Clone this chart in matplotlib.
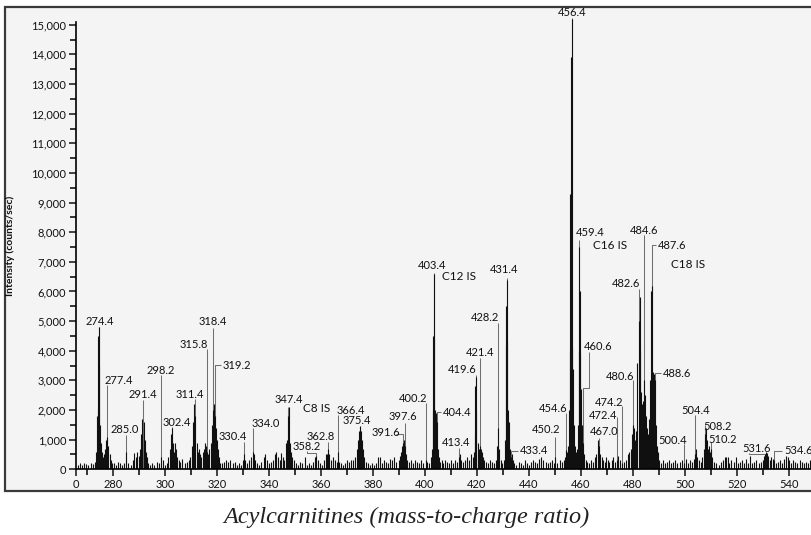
import matplotlib
matplotlib.use("Agg")
import matplotlib.pyplot as plt
from matplotlib.patches import Rectangle

plt.rcParams['font.family'] = ['Lato', 'DejaVu Sans']

# profile sticks (m/z, counts/sec)
sticks_266_300 = [
    (266.4, 150), (267.2, 200), (268.0, 150), (268.8, 220), (269.6, 180), (270.4, 150),
    (271.2, 220), (272.0, 180), (272.8, 250), (273.4, 600),
    (273.7, 1800), (274.0, 2000), (274.2, 4500), (274.4, 4800), (274.6, 3500), (274.8, 1500),
    (275.1, 900), (275.5, 600), (275.9, 400), (276.4, 500), (276.9, 700), (277.3, 1000),
    (277.7, 1100), (278.1, 800), (278.5, 500), (279.0, 300), (279.6, 200),
    (280.3, 200), (281.0, 150), (281.8, 250), (282.6, 200), (283.4, 150), (284.2, 200),
    (285.0, 600), (285.8, 200), (286.6, 150),
    (287.4, 300), (288.0, 550), (288.6, 400), (289.2, 600), (289.8, 450), (290.4, 700),
    (290.8, 1200), (291.2, 1700), (291.6, 1600), (292.0, 1000), (292.4, 600), (292.8, 400),
    (293.4, 200), (294.2, 150), (295.0, 200), (295.8, 150), (296.6, 250), (297.4, 200),
    (298.2, 400), (299.0, 300), (299.8, 150),
]
sticks_300_340 = [
    (300.6, 200), (301.2, 400), (301.8, 700), (302.2, 1200), (302.6, 1400), (303.0, 900),
    (303.4, 600), (303.8, 900), (304.2, 700), (304.6, 400), (305.2, 300), (305.8, 250),
    (306.6, 350), (307.4, 200), (308.2, 250), (309.0, 300), (309.6, 400), (310.2, 800),
    (310.8, 1600), (311.2, 2200), (311.6, 1800), (312.0, 900), (312.4, 600), (312.8, 700),
    (313.2, 500), (313.8, 400), (314.4, 600), (315.0, 700), (315.4, 900), (315.8, 800),
    (316.2, 600), (316.6, 500), (317.0, 700), (317.4, 900), (317.8, 1500), (318.2, 2000),
    (318.6, 2200), (319.0, 1800), (319.4, 1400), (319.8, 1000), (320.2, 700), (320.6, 400),
    (321.0, 200), (321.8, 200), (322.6, 250), (323.4, 300), (324.2, 250), (325.0, 300),
    (326.0, 200), (326.8, 250), (327.6, 150), (328.4, 200), (329.2, 150), (330.0, 300),
    (330.4, 500), (330.8, 300), (331.6, 200), (332.4, 300), (333.0, 400), (333.6, 600),
    (334.0, 500), (334.6, 300), (335.4, 200), (336.2, 150), (337.0, 250), (337.8, 400),
    (338.4, 500), (339.0, 300), (339.8, 200),
]
sticks_340_400 = [
    (340.6, 250), (341.4, 300), (342.2, 500), (342.8, 600), (343.4, 400), (344.0, 300),
    (344.6, 550), (345.2, 400), (345.8, 300), (346.4, 900), (346.8, 1000), (347.2, 1800),
    (347.6, 2100), (348.0, 900), (348.4, 600), (348.8, 400), (349.4, 300), (350.2, 200),
    (351.0, 150), (351.8, 250), (352.6, 200), (353.6, 400), (354.4, 150), (355.4, 200),
    (356.2, 150), (357.0, 250), (357.6, 400), (358.2, 450), (358.8, 300), (359.6, 200),
    (360.4, 150), (361.2, 300), (361.8, 500), (362.4, 500), (362.8, 700), (363.2, 500),
    (363.8, 300), (364.6, 400), (365.4, 300), (366.0, 250), (366.4, 600), (366.8, 250),
    (367.6, 200), (368.4, 150), (369.2, 200), (370.0, 300), (370.8, 250), (371.6, 300),
    (372.4, 300), (373.2, 400), (373.8, 700), (374.2, 1000), (374.6, 1300), (375.0, 1450),
    (375.4, 1300), (375.8, 1000), (376.2, 700), (376.6, 400), (377.2, 250), (378.0, 200),
    (378.8, 150), (379.6, 200), (380.4, 150), (381.2, 200), (382.0, 400), (382.6, 400),
    (383.4, 200), (384.2, 300), (385.0, 250), (385.8, 200), (386.6, 350), (387.4, 300),
    (388.2, 400), (389.0, 250), (389.8, 300), (390.4, 450), (390.8, 600), (391.2, 800),
    (391.6, 900), (392.0, 1000), (392.4, 800), (392.8, 500), (393.2, 300), (393.8, 250),
    (394.6, 300), (395.4, 200), (396.2, 300), (397.0, 250), (397.8, 200), (398.6, 300),
    (399.4, 200),
]
sticks_400_450 = [
    (400.2, 300), (400.8, 250), (401.6, 200), (402.2, 400), (402.6, 700), (403.0, 2000),
    (403.2, 4500), (403.4, 6600), (403.6, 4400), (403.8, 2000), (404.2, 1900), (404.6, 1600),
    (405.0, 700), (405.4, 400), (405.8, 250), (406.4, 300), (407.0, 200), (407.8, 300),
    (408.4, 250), (409.2, 200), (410.0, 300), (410.8, 200), (411.6, 300), (412.4, 250),
    (413.0, 400), (413.4, 500), (413.8, 300), (414.6, 250), (415.4, 300), (416.2, 400),
    (417.0, 300), (417.8, 500), (418.4, 400), (418.8, 600), (419.2, 1200), (419.4, 2800),
    (419.6, 3100), (419.8, 2000), (420.2, 900), (420.6, 700), (421.0, 800), (421.4, 700),
    (421.8, 600), (422.2, 400), (422.8, 300), (423.4, 250), (424.2, 200), (425.0, 300),
    (425.8, 250), (426.6, 200), (427.2, 300), (427.8, 800), (428.2, 1400), (428.6, 700),
    (429.2, 300), (429.8, 200), (430.4, 300), (430.8, 1000), (431.0, 4200), (431.2, 5500),
    (431.4, 6400), (431.6, 4300), (431.8, 2000), (432.2, 1600), (432.6, 700), (433.0, 400),
    (433.4, 500), (433.8, 300), (434.4, 200), (435.2, 150), (436.0, 250), (436.8, 200),
    (437.6, 150), (438.4, 300), (439.2, 200), (440.0, 150), (440.8, 250), (441.6, 300),
    (442.4, 250), (443.2, 200), (444.0, 350), (444.8, 400), (445.6, 300), (446.4, 250),
    (447.2, 200), (448.0, 250), (448.8, 300), (449.6, 200),
]
sticks_450_500 = [
    (450.2, 400), (451.0, 200), (451.8, 300), (452.6, 250), (453.4, 300), (454.0, 400),
    (454.4, 650), (454.8, 600), (455.2, 800), (455.6, 2000), (455.8, 4000), (456.0, 9300),
    (456.2, 13900), (456.4, 15200), (456.6, 4100), (456.8, 3400), (457.2, 1500), (457.6, 800),
    (458.0, 600), (458.4, 700), (458.8, 1500), (459.2, 4000), (459.4, 7500), (459.6, 6000),
    (459.8, 3900), (460.2, 2700), (460.6, 1500), (461.0, 900), (461.4, 500), (461.8, 300),
    (462.4, 250), (463.2, 200), (464.0, 300), (464.8, 250), (465.4, 400), (466.0, 500),
    (466.6, 1000), (467.0, 800), (467.4, 500), (468.0, 400), (468.6, 300), (469.2, 250),
    (469.8, 400), (470.4, 300), (471.0, 250), (471.8, 300), (472.4, 400), (473.0, 250),
    (473.8, 300), (474.4, 450), (475.0, 300), (475.8, 200), (476.6, 250), (477.4, 300),
    (478.0, 500), (478.6, 600), (479.2, 700), (479.8, 1200), (480.2, 1500), (480.6, 1400),
    (481.0, 1000), (481.4, 1300), (481.8, 3600), (482.2, 5000), (482.6, 5800), (482.8, 4000),
    (483.2, 2600), (483.6, 2200), (484.0, 2300), (484.2, 3000), (484.6, 2500), (485.0, 1800),
    (485.4, 1400), (485.8, 1200), (486.2, 1700), (486.6, 3000), (487.0, 6000), (487.4, 6200),
    (487.8, 3300), (488.2, 3200), (488.6, 3000), (489.0, 1500), (489.4, 800), (489.8, 600),
    (490.2, 300), (490.8, 200), (491.6, 300), (492.4, 200), (493.2, 250), (494.0, 300),
    (494.8, 200), (495.6, 250), (496.4, 300), (497.2, 200), (498.0, 250), (498.8, 300),
    (499.6, 200),
]
sticks_500_549 = [
    (500.4, 350), (501.2, 200), (502.0, 300), (502.8, 250), (503.6, 350), (504.0, 500),
    (504.4, 700), (504.8, 400), (505.4, 300), (506.2, 250), (506.8, 400), (507.4, 700),
    (507.8, 1200), (508.2, 1400), (508.6, 1000), (509.0, 700), (509.4, 800), (509.8, 600),
    (510.2, 700), (510.6, 400), (511.2, 250), (512.0, 200), (513.0, 150), (514.0, 250),
    (514.8, 300), (515.4, 400), (516.0, 400), (516.6, 400), (517.2, 200), (518.0, 300),
    (518.8, 250), (519.6, 400), (520.4, 200), (521.2, 250), (522.0, 300), (522.8, 200),
    (523.6, 350), (524.4, 200), (525.2, 450), (526.0, 200), (526.8, 250), (527.6, 300),
    (528.4, 200), (529.2, 250), (530.0, 300), (530.6, 450), (531.0, 500), (531.4, 600),
    (531.8, 550), (532.2, 450), (532.8, 300), (533.4, 400), (534.0, 350), (534.4, 300),
    (535.2, 200), (536.0, 250), (536.8, 300), (537.6, 200), (538.4, 350), (539.0, 450),
    (539.6, 400), (540.2, 300), (541.0, 200), (541.8, 300), (542.6, 250), (543.4, 200),
    (544.2, 300), (545.0, 250), (545.8, 200), (546.6, 250), (547.4, 200), (548.2, 300),
]

# labelled peaks: text, m/z of the leader line, leader height
peak_text = ["274.4", "277.4", "285.0", "291.4", "298.2", "302.4", "311.4", "315.8",
             "318.4", "319.2", "330.4", "334.0", "347.4", "358.2", "362.8", "366.4",
             "375.4", "391.6", "397.6", "400.2", "403.4", "404.4", "413.4", "419.6",
             "421.4", "428.2", "431.4", "433.4", "450.2", "454.6", "456.4", "459.4",
             "460.6", "467.0", "472.4", "474.2", "480.6", "482.6", "484.6", "487.6",
             "488.6", "500.4", "504.4", "508.2", "510.2", "531.6", "534.6"]
peak_mz = [274.4, 277.4, 285.0, 291.5, 298.2, 302.4, 311.4, 315.9,
           318.4, 319.0, 330.1, 333.9, 347.4, 358.1, 362.8, 366.5,
           375.1, 391.4, 392.4, 400.4, 403.4, 404.5, 413.2, 419.6,
           421.3, 428.2, 431.6, 433.2, 450.1, 454.4, 456.4, 459.3,
           460.7, 466.9, 474.1, 475.8, 479.9, 482.5, 484.2, 487.2,
           488.5, 499.8, 504.1, 507.9, 510.1, 531.2, 534.3]
peak_top = [4800, 2850, 1160, 2340, 3180, 1440, 2360, 4050,
            4760, 3520, 930, 1380, 2110, 560, 930, 1830,
            1440, 1200, 1550, 2230, 6610, 1940, 710, 3180,
            3750, 4930, 6450, 630, 1100, 1890, 15230, 7740,
            2730, 1050, 1780, 2150, 3010, 6100, 7900, 7570,
            3240, 850, 1830, 1500, 930, 520, 620]

# where each label text sits (m/z, counts) and its alignment
label_pos = [(274.6, 4980, "center"), (281.9, 2990, "center"), (284.5, 1330, "center"),
             (291.3, 2510, "center"), (298.1, 3350, "center"), (304.5, 1590, "center"),
             (309.3, 2510, "center"), (311.1, 4220, "center"), (318.4, 4980, "center"),
             (321.9, 3500, "left"), (325.9, 1100, "center"), (338.8, 1530, "center"),
             (347.4, 2340, "center"), (354.4, 763, "center"), (360.0, 1100, "center"),
             (371.3, 2000, "center"), (373.7, 1640, "center"), (384.9, 1240, "center"),
             (391.5, 1770, "center"), (395.2, 2400, "center"), (402.6, 6870, "center"),
             (406.8, 1925, "left"), (412.0, 900, "center"), (414.3, 3375, "center"),
             (421.2, 3940, "center"), (423.2, 5120, "center"), (430.3, 6730, "center"),
             (436.3, 630, "left"), (446.6, 1330, "center"), (449.5, 2060, "center"),
             (456.7, 15410, "center"), (463.7, 8000, "center"), (466.8, 4160, "center"),
             (468.8, 1270, "center"), (468.6, 1830, "center"), (471.0, 2250, "center"),
             (475.1, 3130, "center"), (477.4, 6280, "center"), (484.3, 8060, "center"),
             (489.5, 7540, "left"), (491.5, 3240, "left"), (495.2, 980, "center"),
             (504.1, 2000, "center"), (512.6, 1440, "center"), (514.5, 990, "center"),
             (527.5, 700, "center"), (538.3, 650, "left")]

# leader bends for the bracketed labels: extra points after the stick top
leader_bends = {
    "319.2": [(321.3, 3520)],
    "358.2": [(354.4, 560), (354.4, 620)],
    "391.6": [(388.9, 1200)],
    "404.4": [(406.2, 1940)],
    "433.4": [(435.7, 630)],
    "460.6": [(463.3, 2730), (463.3, 3950)],
    "487.6": [(488.9, 7570)],
    "488.6": [(491.0, 3240)],
    "531.6": [(524.8, 520), (524.8, 560)],
    "534.6": [(537.6, 620)],
}

standards = ["C8 IS", "C12 IS", "C16 IS", "C18 IS"]
standard_pos = [(358.4, 2060), (413.0, 6500), (471.1, 7540), (501.1, 6900)]

y_ticks = list(range(0, 15001, 1000))
x_ticks = list(range(280, 541, 20))
x_min, x_max = 265.6, 549.0
y_max = 15600

sticks = (sticks_266_300 + sticks_300_340 + sticks_340_400 + sticks_400_450
          + sticks_450_500 + sticks_500_549)
mz = [s[0] for s in sticks]
counts = [s[1] for s in sticks]

W, H = 812, 535
fig = plt.figure(figsize=(W / 100, H / 100), dpi=100)
fig.patch.set_facecolor("white")
# light panel with a dark frame behind the plot
frame = Rectangle((5 / W, 1 - 491 / H), 1.1, (491 - 7) / H,
                  transform=fig.transFigure, facecolor="#f4f4f4",
                  edgecolor="#3a3a3a", linewidth=1.6, zorder=-10)
fig.add_artist(frame)

ax = fig.add_axes([76 / W, 1 - 469.3 / H, (W - 76) / W, (469.3 - 7) / H])
ax.set_zorder(5)
ax.set_facecolor("none")
ax.set_xlim(x_min, x_max)
ax.set_ylim(0, y_max)

# gray leader lines first, dark profile sticks on top
for text, x0, top in zip(peak_text, peak_mz, peak_top):
    xs = [x0, x0]
    ys = [0, top]
    for bx, by in leader_bends.get(text, []):
        xs.append(bx)
        ys.append(by)
    ax.plot(xs, ys, color="#707070", lw=0.75, solid_capstyle="butt", zorder=2,
            clip_on=False)

ax.vlines(mz, 0, counts, color="#101010", lw=0.8, zorder=3)

for text, (tx, ty, ha) in zip(peak_text, label_pos):
    ax.text(tx, ty, text, ha=ha, va="center", fontsize=8, color="#111111",
            zorder=4, clip_on=False)
for text, (tx, ty) in zip(standards, standard_pos):
    ax.text(tx, ty, text, ha="center", va="center", fontsize=8.5, color="#111111",
            zorder=4)

# axes in the style of the instrument software
for side in ["top", "right"]:
    ax.spines[side].set_visible(False)
ax.spines["left"].set_bounds(0, 15080)
ax.spines["left"].set_linewidth(1.2)
ax.spines["bottom"].set_linewidth(1.2)
ax.spines["left"].set_zorder(5)
ax.spines["bottom"].set_zorder(5)

ax.set_yticks(y_ticks)
ax.set_yticklabels([f"{v:,}" for v in y_ticks])
ax.set_yticks(list(range(500, 15000, 1000)), minor=True)
ax.set_xticks([x_min] + x_ticks)
ax.set_xticklabels(["0"] + [str(v) for v in x_ticks])
ax.set_xticks(list(range(270, 549, 20)), minor=True)
ax.tick_params(axis="both", which="major", length=5, width=1.1, labelsize=8,
               colors="#111111", pad=2)
ax.tick_params(axis="both", which="minor", length=4, width=1.1)
ax.tick_params(axis="x", which="both", direction="out")

fig.text(10 / W, 1 - 246 / H, "Intensity (counts/sec)", rotation=90, ha="center",
         va="center", fontsize=7.5, fontweight="bold", color="#111111")
fig.text(406 / W, 1 - 517 / H, "Acylcarnitines (mass-to-charge ratio)", ha="center",
         va="center", fontsize=17.5, fontstyle="italic", family="Liberation Serif",
         color="#222222")

fig.savefig("out.png", dpi=100)
